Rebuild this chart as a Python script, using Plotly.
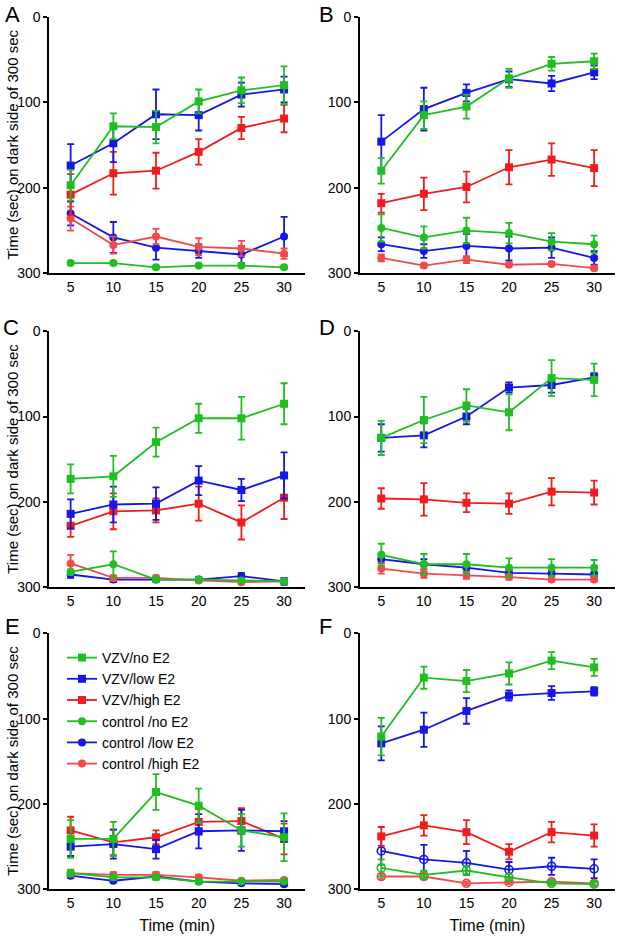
import plotly.graph_objects as go

# ---------------- data ----------------
TIMES = [5, 10, 15, 20, 25, 30]
SERIES = ["VZV/no E2", "VZV/low E2", "VZV/high E2",
          "control /no E2", "control /low E2", "control /high E2"]
Y_TICKS = [0, 100, 200, 300]
PANEL_LABELS = ["A", "B", "C", "D", "E", "F"]
Y_TITLE = "Time (sec) on dark side of 300 sec"
X_TITLE = "Time (min)"

# order of rows in each panel array: VZV/no, VZV/low, VZV/high, control/no, control/low, control/high
A_mean = [[197, 128, 129, 99, 86, 80],
          [174, 148, 114, 115, 91, 85],
          [208, 183, 180, 158, 130, 119],
          [288, 288, 293, 291, 291, 293],
          [230, 258, 270, 274, 278, 257],
          [236, 267, 257, 269, 271, 277]]
A_sem = [[18, 15, 19, 14, 15, 22],
         [25, 22, 29, 18, 14, 15],
         [24, 25, 21, 15, 13, 16],
         [2, 2, 2, 2, 2, 2],
         [14, 18, 14, 8, 10, 23],
         [14, 10, 9, 10, 9, 6]]

B_mean = [[180, 115, 105, 72, 55, 52],
          [146, 108, 89, 73, 78, 65],
          [218, 207, 199, 176, 167, 177],
          [247, 258, 250, 253, 263, 266],
          [266, 274, 268, 271, 270, 282],
          [282, 291, 284, 290, 289, 294]]
B_sem = [[15, 16, 14, 11, 8, 9],
         [31, 25, 10, 9, 9, 8],
         [11, 19, 18, 20, 19, 21],
         [16, 13, 15, 12, 10, 10],
         [8, 8, 14, 14, 12, 8],
         [4, 2, 4, 2, 2, 2]]

C_mean = [[173, 170, 130, 102, 102, 85],
          [214, 203, 202, 175, 186, 169],
          [228, 211, 210, 202, 224, 195],
          [282, 273, 291, 291, 292, 293],
          [285, 291, 291, 291, 287, 293],
          [272, 289, 289, 292, 294, 293]]
C_sem = [[17, 24, 17, 17, 25, 24],
         [17, 21, 19, 17, 13, 27],
         [13, 21, 14, 20, 20, 25],
         [3, 15, 2, 2, 2, 2],
         [4, 3, 3, 3, 4, 4],
         [10, 3, 3, 2, 2, 2]]

D_mean = [[125, 104, 87, 95, 55, 57],
          [125, 122, 100, 66, 63, 54],
          [196, 197, 201, 202, 188, 189],
          [262, 273, 273, 277, 277, 277],
          [267, 273, 277, 283, 284, 285],
          [278, 284, 286, 288, 291, 291]]
D_sem = [[20, 27, 19, 21, 21, 19],
         [16, 14, 9, 6, 9, 5],
         [12, 19, 11, 12, 16, 14],
         [13, 12, 12, 11, 10, 9],
         [5, 6, 5, 4, 3, 3],
         [6, 5, 4, 3, 2, 2]]

E_mean = [[241, 241, 186, 202, 231, 239],
          [250, 247, 253, 232, 231, 232],
          [231, 245, 239, 221, 220, 241],
          [281, 286, 286, 291, 291, 291],
          [284, 290, 285, 291, 293, 294],
          [281, 283, 283, 286, 290, 289]]
E_sem = [[22, 20, 21, 20, 19, 28],
         [11, 17, 11, 20, 24, 12],
         [16, 15, 8, 15, 15, 18],
         [3, 3, 3, 2, 2, 2],
         [3, 2, 3, 2, 2, 2],
         [4, 3, 3, 3, 2, 2]]

F_mean = [[121, 52, 56, 47, 32, 40],
          [129, 113, 91, 73, 70, 68],
          [238, 225, 233, 256, 233, 237],
          [275, 283, 278, 286, 293, 294],
          [255, 265, 269, 277, 273, 276],
          [285, 285, 293, 292, 291, 293]]
F_sem = [[22, 13, 13, 13, 10, 10],
         [20, 20, 15, 6, 8, 5],
         [11, 12, 14, 9, 12, 13],
         [10, 5, 5, 4, 2, 2],
         [16, 17, 14, 9, 10, 11],
         [3, 3, 2, 2, 2, 2]]

# ---------------- styling ----------------
W, H = 618, 938
FONT = "Arial, Liberation Sans, sans-serif"
GREEN, BLUE, RED, RED_LIGHT = "#21BE21", "#1616E8", "#F21C1C", "#F24A4A"
COLORS = [GREEN, BLUE, RED, GREEN, BLUE, RED_LIGHT]
DRAW_ORDER = [4, 5, 3, 2, 1, 0]

panels = [(A_mean, A_sem), (B_mean, B_sem), (C_mean, C_sem),
          (D_mean, D_sem), (E_mean, E_sem), (F_mean, F_sem)]

# pixel geometry of the plot areas (page pixels)
COLS = [(49.3, 305.0), (360.0, 615.0)]
ROWS = [(16.8, 273.3), (331.2, 587.3), (633.3, 889.3)]
LETTER_POS = [(4, 14.5), (318, 14.5), (2, 328), (318, 328), (4, 626), (318, 626)]

fig = go.Figure()
annotations = []

for p, (means, sems) in enumerate(panels):
    row, col = divmod(p, 2)
    idx = p + 1
    xa = "x" if idx == 1 else f"x{idx}"
    ya = "y" if idx == 1 else f"y{idx}"
    open_ctl = (p == 5)
    for s in DRAW_ORDER:
        is_vzv = s < 3
        if is_vzv:
            symbol = "square"
        else:
            symbol = "circle-open" if open_ctl else "circle"
        marker = dict(symbol=symbol, size=8, color=COLORS[s])
        if symbol == "circle-open":
            marker["line"] = dict(width=1.6, color=COLORS[s])
        fig.add_trace(go.Scatter(
            x=TIMES, y=means[s], xaxis=xa, yaxis=ya,
            mode="lines+markers", name=SERIES[s],
            line=dict(color=COLORS[s], width=1.8),
            marker=marker,
            error_y=dict(type="data", array=sems[s], visible=True,
                         color=COLORS[s], thickness=1.8, width=3.5),
            cliponaxis=False,
            showlegend=(p == 4), legendrank=s + 1,
        ))

    x0, x1 = COLS[col]
    t, b = ROWS[row]
    xdom = [x0 / W, x1 / W]
    ydom = [1 - b / H, 1 - t / H]
    xaxis = dict(domain=xdom, anchor=ya, range=[2.5, 32.45], automargin=False,
                 tickvals=TIMES, ticktext=[str(v) for v in TIMES],
                 showline=True, linecolor="black", linewidth=2,
                 ticks="",
                 showgrid=False, zeroline=False,
                 tickfont=dict(family=FONT, size=14, color="black"))
    if row == 2:
        xaxis["title"] = dict(text=X_TITLE, standoff=10,
                              font=dict(family=FONT, size=16, color="black"))
    yaxis = dict(domain=ydom, anchor=xa, range=[300, 0], automargin=False,
                 tickvals=Y_TICKS, ticktext=[str(v) for v in Y_TICKS],
                 showline=True, linecolor="black", linewidth=2,
                 ticks="outside", ticklen=4, tickwidth=1.5, tickcolor="black",
                 showgrid=False, zeroline=False,
                 tickfont=dict(family=FONT, size=14, color="black"))
    fig.layout[("xaxis" if idx == 1 else f"xaxis{idx}")] = xaxis
    fig.layout[("yaxis" if idx == 1 else f"yaxis{idx}")] = yaxis

    if col == 0:
        annotations.append(dict(text=Y_TITLE, xref="paper", yref="paper",
                                x=12.5 / W, y=(ydom[0] + ydom[1]) / 2,
                                xanchor="center", yanchor="middle", textangle=-90,
                                showarrow=False,
                                font=dict(family=FONT, size=15, color="black")))

    lx, ly = LETTER_POS[p]
    annotations.append(dict(text=PANEL_LABELS[p], xref="paper", yref="paper",
                            x=lx / W, y=1 - ly / H, xanchor="left", yanchor="middle",
                            showarrow=False, borderpad=0,
                            font=dict(family=FONT, size=22, color="black")))

fig.update_layout(
    template="none",
    width=W, height=H,
    margin=dict(l=0, r=0, t=0, b=0, pad=0, autoexpand=False),
    paper_bgcolor="white", plot_bgcolor="rgba(0,0,0,0)",
    annotations=annotations,
    showlegend=True,
    legend=dict(x=62 / W, y=1 - 642 / H, xanchor="left", yanchor="top",
                bgcolor="rgba(0,0,0,0)", traceorder="normal",
                font=dict(family=FONT, size=14, color="black"),
                itemwidth=30),
)

fig.write_html("out.html",
               config={"displayModeBar": False},
               post_script="document.body.style.margin='0';document.body.style.padding='0';")
